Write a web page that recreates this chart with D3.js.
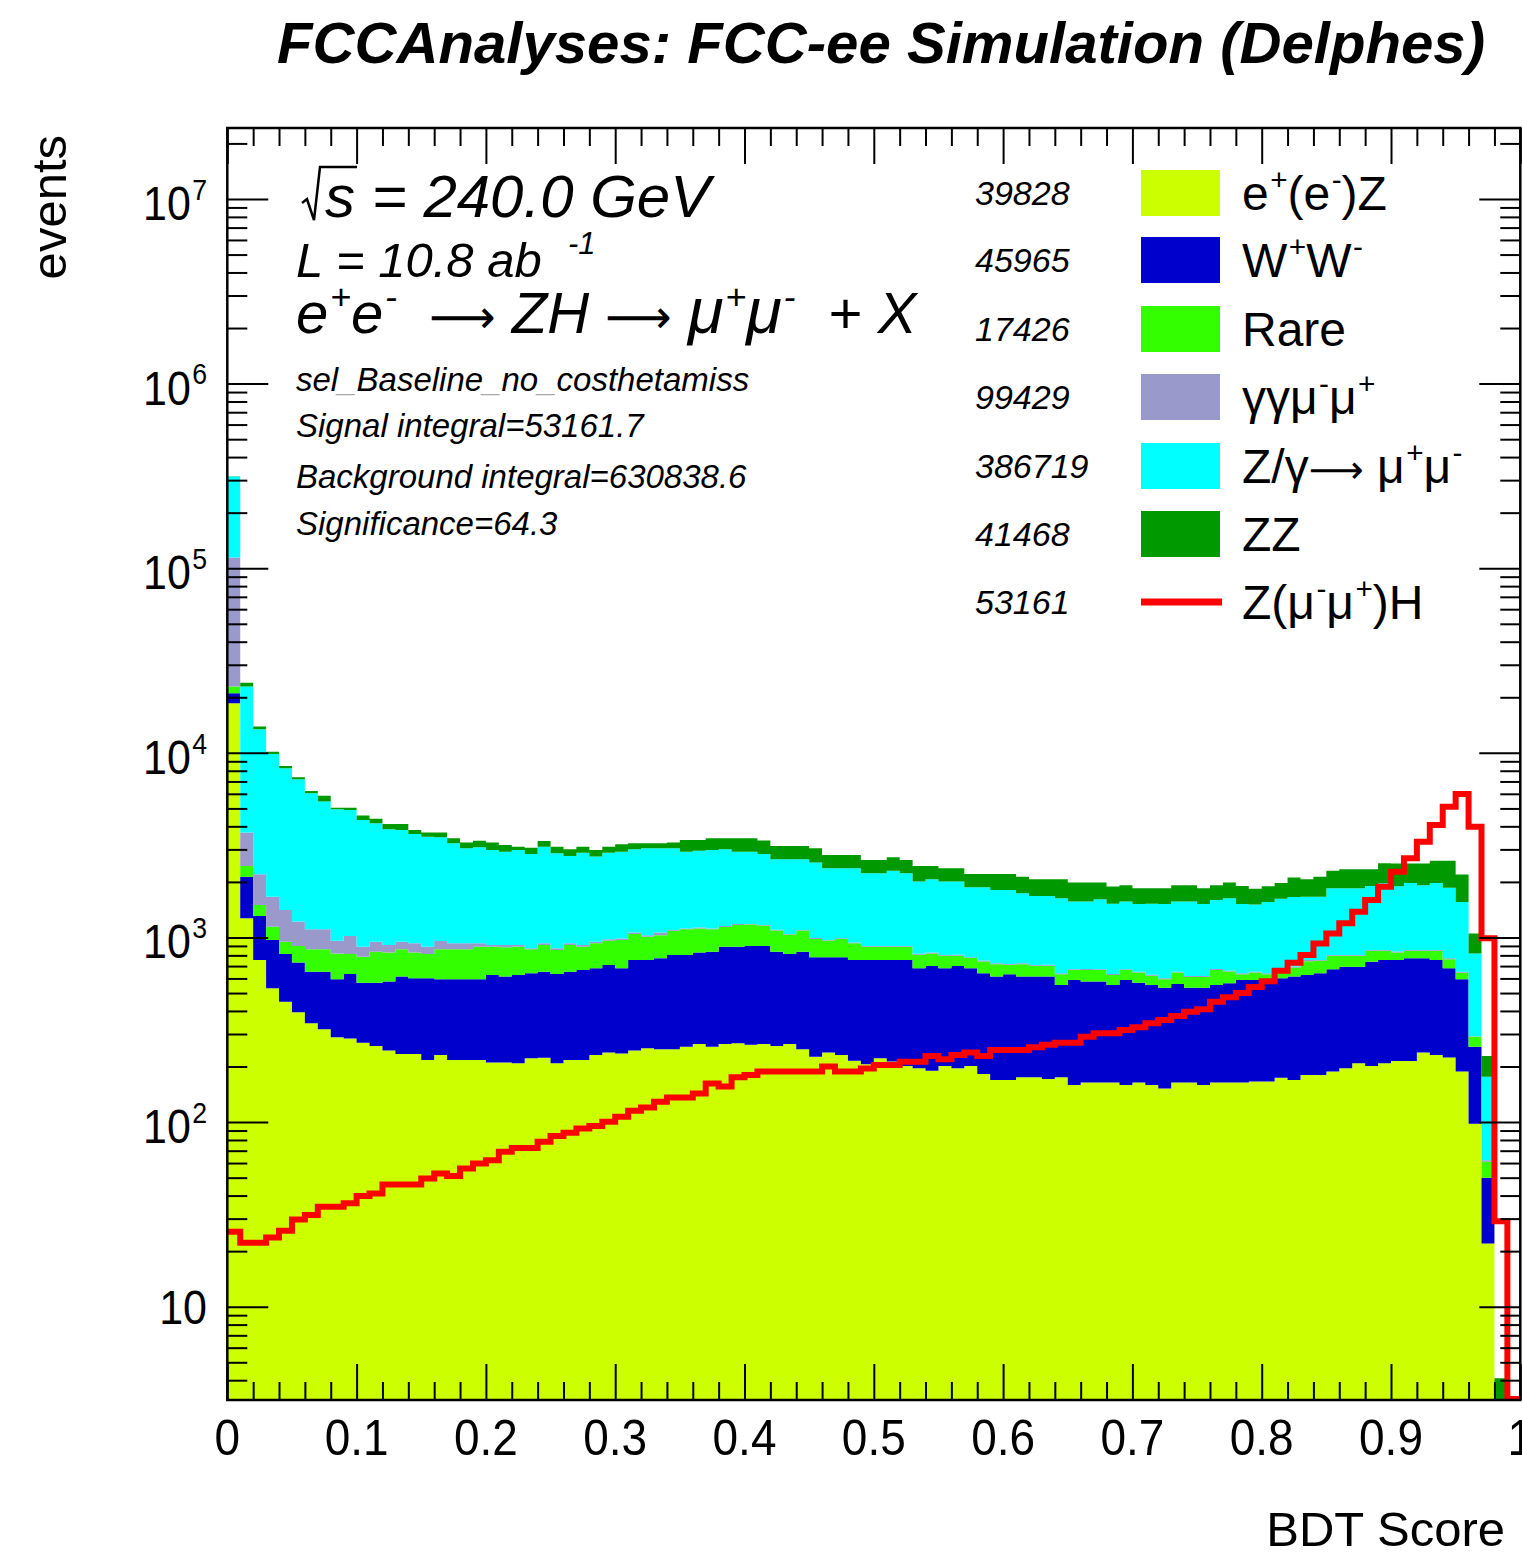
<!DOCTYPE html>
<html>
<head>
<meta charset="utf-8">
<script src="https://cdn.jsdelivr.net/npm/d3@7"></script>
<style>
  body { margin: 0; background: #fff; }
  svg text { font-family: "Liberation Sans", Arial, Helvetica, sans-serif; fill: #000; }
</style>
</head>
<body>
<div id="chart"></div>
<script>
// 100 bins of BDT score, 0 -> 1
var nBins = 100;
var binLow = d3.range(nBins).map(function (i) { return i / nBins; });

// stacked backgrounds, bottom to top (events per bin)
var eeZ = [18580,1271,755,531,449,394,343,318,288,284,
  269,258,244,234,234,217,231,217,217,217,
  210,210,208,222,223,208,217,217,231,238,
  235,244,251,248,248,256,265,256,265,267,
  262,265,258,265,248,226,238,231,215,206,
  222,213,201,196,190,201,196,201,182,169,
  169,175,175,171,175,159,164,164,164,159,
  164,159,152,164,164,159,164,164,164,166,
  166,174,169,180,180,188,196,208,201,208,
  214,214,238,231,224,188,98,22,1,0];
var WW = [2450,864,554,437,366,337,310,335,306,350,
  300,311,333,380,367,384,363,377,377,377,
  417,404,419,418,430,426,436,450,450,472,
  446,511,504,523,556,548,563,582,626,624,
  637,634,580,549,590,555,543,550,541,550,
  534,543,555,485,511,480,505,480,458,445,
  463,439,439,443,378,430,413,413,389,430,
  405,394,383,396,371,376,389,401,425,423,
  399,427,445,446,460,484,499,487,538,547,
  541,557,533,524,457,405,158,28,0.5,0];
var rare = [1820,305,191,175,133,168,210,210,226,181,
  218,269,251,249,227,214,269,269,269,297,
  264,271,264,223,257,221,257,224,250,251,
  287,290,254,256,285,303,292,269,248,278,
  276,262,253,223,253,201,181,201,174,135,
  135,135,135,125,119,115,95,92,102,103,
  79,103,88,88,80,77,89,89,74,77,
  77,67,59,86,76,76,113,89,44,57,
  68,45,74,117,107,123,100,100,108,92,
  75,76,76,92,82,52,34,11,0.3,0];
var gagamumu = [91450,1258,700,521,461,320,244,244,141,204,
  104,110,82,85,103,76,94,68,68,40,
  19,25,19,11,21,19,21,19,17,17,
  20,18,18,36,10,13,13,13,14,14,
  8,8,9,8,8,10,8,9,8,8,
  9,8,8,10,8,8,9,8,8,8,
  7,8,8,9,7,7,8,7,8,7,
  7,8,7,7,8,7,8,7,7,7,
  7,7,8,12,8,8,8,9,8,8,
  9,8,8,8,8,8,2,1.2,0,0];
var Zmumu = [199900,19150,11230,8196,6851,5976,4933,4338,3982,3888,
  3435,3207,2945,2871,2709,2625,2534,2305,2110,2152,
  2068,2007,2068,1959,2174,1984,1830,1969,1794,1901,
  1929,1943,2014,1978,1942,1797,1818,1858,1853,1734,
  1734,1665,1552,1606,1552,1553,1399,1379,1431,1329,
  1329,1402,1329,1195,1238,1205,1205,1090,1121,1083,
  1089,1009,968,968,990,891,891,937,886,891,
  867,893,919,911,946,902,923,969,880,858,
  916,969,961,908,908,1042,1042,1042,1046,1110,
  1054,1119,1061,1119,1091,902,526,114,1,0];
var ZZ = [400,1140,440,280,230,185,180,405,103,139,
  245,241,266,302,179,183,208,207,225,259,
  288,253,127,229,229,247,245,226,236,226,
  282,230,195,195,225,456,422,465,437,526,
  526,516,482,482,482,499,428,428,428,402,
  402,416,402,431,374,361,361,337,337,400,
  400,401,386,386,434,419,419,373,365,353,
  326,326,326,353,353,326,321,353,381,327,
  338,353,454,402,472,456,494,494,438,558,
  622,541,599,626,738,637,232,52,1.3,0];

// signal, drawn as a line on top
var signal = [25.5,22.2,22.2,23.7,25.8,29.7,31.4,34.8,34.8,36.3,
  39.8,41.1,45.9,45.9,45.9,49.5,52.7,51.0,56.1,59.7,
  62.2,69.0,72.5,72.5,78.3,84.0,87.5,92.4,95.1,100.4,
  106.9,115.2,120.1,128.9,136.1,136.1,143,162,156,175,
  180,188,188,188,188,188,200,188,188,195,
  204,204,212,212,228,219,231,238,228,246,
  246,246,254,262,269,269,290,303,303,315,
  326,343,357,375,396,408,449,474,500,540,
  580,660,730,803,929,1052,1193,1380,1596,1884,
  2271,2684,3303,4064,5112,5988,3984,989,29,0];

// legend
var legendKeys = ["eeZ", "WW", "rare", "gagamumu", "Zmumu", "ZZ"];
var legendColors = ["#ccff00", "#0000cc", "#33ff00", "#9999cc", "#00ffff", "#009900"];
var legendCounts = ["39828", "45965", "17426", "99429", "386719", "41468", "53161"];
var legendLabels = [
  [["e"], ["+", "sup"], ["(e"], ["-", "sup"], [")Z"]],
  [["W"], ["+", "sup"], ["W"], ["-", "sup"]],
  [["Rare"]],
  [["\u03b3\u03b3\u03bc"], ["-", "sup"], ["\u03bc"], ["+", "sup"]],
  [["Z/\u03b3"], ["\u27f6", "arrow"], [" \u03bc"], ["+", "sup"], ["\u03bc"], ["-", "sup"]],
  [["ZZ"]],
  [["Z(\u03bc"], ["-", "sup"], ["\u03bc"], ["+", "sup"], [")H"]]
];

var xTicks = [0, 0.1, 0.2, 0.3, 0.4, 0.5, 0.6, 0.7, 0.8, 0.9, 1];
var xTickLabels = ["0", "0.1", "0.2", "0.3", "0.4", "0.5", "0.6", "0.7", "0.8", "0.9", "1"];
var yExponents = [1, 2, 3, 4, 5, 6, 7];

var infoLines = ["sel_Baseline_no_costhetamiss", "Signal integral=53161.7",
  "Background integral=630838.6", "Significance=64.3"];

// frame
var W = 1522, H = 1553;
var pLeft = 227.3, pRight = 1520.3, pTop = 128, pBottom = 1400;
var yMin = 3.124, yMax = 2.424e7;

var svg = d3.select("#chart").append("svg")
    .attr("width", W)
    .attr("height", H);

var x = d3.scaleLinear().domain([0, 1]).range([pLeft, pRight]);
var y = d3.scaleLog().domain([yMin, yMax]).range([pBottom, pTop]);
function yc(v) { return y(Math.max(v, yMin)); }

svg.append("clipPath").attr("id", "plotclip")
  .append("rect").attr("x", pLeft).attr("y", pTop)
    .attr("width", pRight - pLeft).attr("height", pBottom - pTop);

var rows = binLow.map(function (b, i) {
  return {bin: b, eeZ: eeZ[i], WW: WW[i], rare: rare[i], gagamumu: gagamumu[i], Zmumu: Zmumu[i], ZZ: ZZ[i]};
});
var stacked = d3.stack().keys(legendKeys)(rows);

var area = d3.area()
    .curve(d3.curveStepAfter)
    .x(function (d) { return x(d.x); })
    .y0(function (d) { return yc(d.lo); })
    .y1(function (d) { return yc(d.hi); });

var plot = svg.append("g").attr("clip-path", "url(#plotclip)");

stacked.forEach(function (layer, k) {
  var pts = layer.map(function (d, i) { return {x: binLow[i], lo: d[0], hi: d[1]}; });
  var last = pts[pts.length - 1];
  pts.push({x: 1, lo: last.lo, hi: last.hi});
  plot.append("path")
    .datum(pts)
    .attr("d", area)
    .attr("fill", legendColors[k]);
});

// signal histogram outline
var sigPts = signal.map(function (v, i) { return {x: binLow[i], v: v}; });
sigPts.push({x: 1, v: signal[nBins - 1]});
plot.append("path")
  .datum(sigPts)
  .attr("d", d3.line().curve(d3.curveStepAfter)
      .x(function (d) { return x(d.x); })
      .y(function (d) { return Math.min(yc(d.v), pBottom - 1); }))
  .attr("fill", "none")
  .attr("stroke", "#ff0000")
  .attr("stroke-width", 6);

// ticks on all four sides, pointing inward
var xMinor = d3.range(0, 1.001, 0.02).filter(function (v) { return Math.abs(v * 10 - Math.round(v * 10)) > 1e-6; });
var yMajor = yExponents.map(function (e) { return Math.pow(10, e); });
var yMinor = [];
[0, 1, 2, 3, 4, 5, 6, 7].forEach(function (e) {
  [2, 3, 4, 5, 6, 7, 8, 9].forEach(function (m) {
    var v = m * Math.pow(10, e);
    if (v > yMin && v < yMax) yMinor.push(v);
  });
});

function tickAxis(axis, tx, ty) {
  svg.append("g")
    .attr("transform", "translate(" + tx + "," + ty + ")")
    .call(axis.tickFormat(""))
    .call(function (g) { g.select(".domain").remove(); })
    .selectAll("line").attr("stroke", "#000").attr("stroke-width", 2);
}
tickAxis(d3.axisBottom(x).tickValues(xTicks).tickSize(-36).tickSizeOuter(0), 0, pBottom);
tickAxis(d3.axisBottom(x).tickValues(xMinor).tickSize(-18).tickSizeOuter(0), 0, pBottom);
tickAxis(d3.axisTop(x).tickValues(xTicks).tickSize(-36).tickSizeOuter(0), 0, pTop);
tickAxis(d3.axisTop(x).tickValues(xMinor).tickSize(-18).tickSizeOuter(0), 0, pTop);
tickAxis(d3.axisLeft(y).tickValues(yMajor).tickSize(-41).tickSizeOuter(0), pLeft, 0);
tickAxis(d3.axisLeft(y).tickValues(yMinor).tickSize(-20).tickSizeOuter(0), pLeft, 0);
tickAxis(d3.axisRight(y).tickValues(yMajor).tickSize(-41).tickSizeOuter(0), pRight, 0);
tickAxis(d3.axisRight(y).tickValues(yMinor).tickSize(-20).tickSizeOuter(0), pRight, 0);

svg.append("rect")
  .attr("x", pLeft).attr("y", pTop)
  .attr("width", pRight - pLeft).attr("height", pBottom - pTop)
  .attr("fill", "none").attr("stroke", "#000").attr("stroke-width", 2.5);

// text with superscripts, bigger mu and wide arrows
function rich(g, tx, ty, parts, size) {
  var t = g.append("text").attr("x", tx).attr("y", ty).attr("font-size", size)
    .style("white-space", "pre");
  var shift = 0;
  parts.forEach(function (p) {
    var s = t.append("tspan").text(p[0]);
    var target = p[1] === "sup" ? -size * 0.42 : 0;
    s.attr("dy", target - shift);
    if (p[1] === "sup") s.attr("font-size", size * 0.62).attr("dx", size * 0.03);
    if (p[1] === "mu") s.attr("font-size", size * 1.12);
    if (p[1] === "arrow") s.attr("font-family", "DejaVu Sans").attr("font-style", "normal").attr("font-size", size * 0.8);
    shift = target;
  });
  return t;
}

// x labels (ROOT glyphs look a bit taller than wide)
svg.append("g").selectAll("text")
  .data(xTicks)
  .enter().append("text")
    .attr("transform", function (d) { return "translate(" + x(d) + ",1455) scale(1,1.1)"; })
    .attr("text-anchor", "middle")
    .attr("font-size", 46)
    .text(function (d, i) { return xTickLabels[i]; });

// y labels
yExponents.forEach(function (e) {
  var ty = y(Math.pow(10, e));
  var g = svg.append("g");
  if (e === 1) {
    g.attr("transform", "translate(207," + (ty + 17) + ") scale(1,1.12)");
    g.append("text").attr("text-anchor", "end").attr("font-size", 43).text("10");
  } else {
    g.attr("transform", "translate(207," + (ty + 21) + ") scale(1,1.12)");
    rich(g, 0, 0, [["10"], [String(e), "sup"]], 43).attr("text-anchor", "end");
  }
});

svg.append("text")
  .attr("transform", "translate(66,135) rotate(-90)")
  .attr("text-anchor", "end")
  .attr("font-size", 49)
  .text("events");

svg.append("text")
  .attr("x", 1505).attr("y", 1546)
  .attr("text-anchor", "end")
  .attr("font-size", 49)
  .text("BDT Score");

// title
svg.append("text")
  .attr("x", 277).attr("y", 63)
  .attr("font-size", 58)
  .attr("font-weight", "bold")
  .attr("font-style", "italic")
  .attr("textLength", 1208)
  .attr("lengthAdjust", "spacingAndGlyphs")
  .text("FCCAnalyses: FCC-ee Simulation (Delphes)");

// annotations
var ann = svg.append("g").attr("font-style", "italic");
ann.append("path")
  .attr("d", "M302,203 L307,199 L314,220 L320,167 L357,167")
  .attr("fill", "none").attr("stroke", "#000").attr("stroke-width", 2.5);
ann.append("text").attr("x", 325).attr("y", 217).attr("font-size", 60).text("s = 240.0 GeV");
ann.append("text").attr("x", 296).attr("y", 277).attr("font-size", 49).text("L = 10.8 ab");
ann.append("text").attr("x", 568).attr("y", 254).attr("font-size", 31).text("-1");
rich(ann, 296, 333, [["e"], ["+", "sup"], ["e"], ["-", "sup"], ["  "], ["\u27f6", "arrow"], [" ZH "], ["\u27f6", "arrow"], [" "],
  ["\u03bc", "mu"], ["+", "sup"], ["\u03bc", "mu"], ["-", "sup"], ["  + X"]], 58);

var infoY = [391, 437, 488, 535];
infoLines.forEach(function (s, i) {
  var t = ann.append("text").attr("x", 296).attr("y", infoY[i]).attr("font-size", 33);
  s.split(/(_)/).forEach(function (piece) {
    if (piece === "") return;
    t.append("tspan").attr("fill", piece === "_" ? "#aaaaaa" : "#000").text(piece);
  });
});

// legend
var rowY = [193, 260, 329, 397, 466, 534, 602];
var leg = svg.append("g");
rowY.forEach(function (cy, i) {
  leg.append("text").attr("x", 975).attr("y", cy + 12)
    .attr("font-size", 34).attr("font-style", "italic").text(legendCounts[i]);
  if (i < legendColors.length) {
    leg.append("rect").attr("x", 1141).attr("y", cy - 23)
      .attr("width", 79).attr("height", 46).attr("fill", legendColors[i]);
  } else {
    leg.append("line").attr("x1", 1141).attr("x2", 1222)
      .attr("y1", cy).attr("y2", cy)
      .attr("stroke", "#ff0000").attr("stroke-width", 7);
  }
  rich(leg, 1242, cy + 17, legendLabels[i], 48);
});
</script>
</body>
</html>
